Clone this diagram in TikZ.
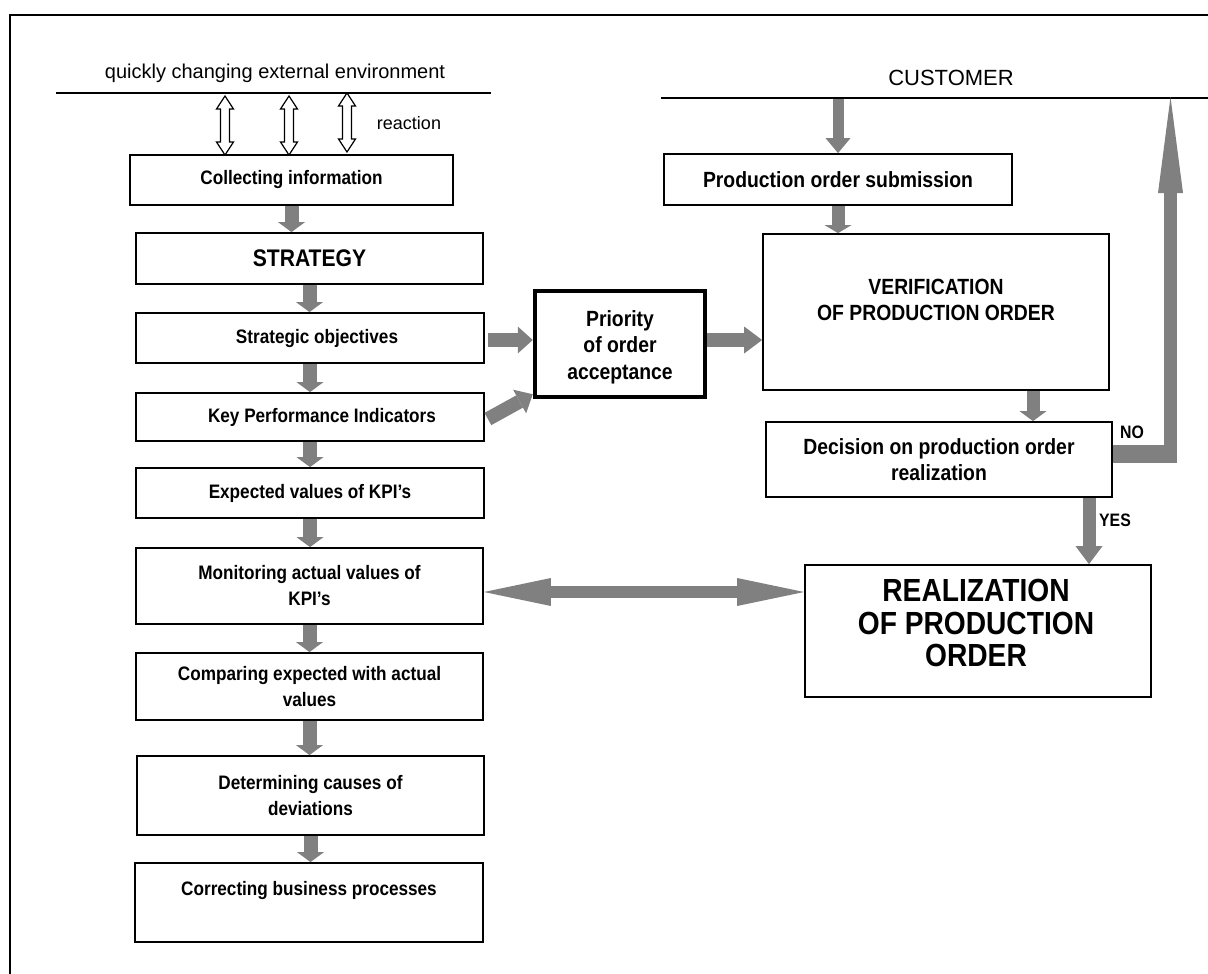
\documentclass[tikz,border=0pt]{standalone}
\usepackage{fontspec}
\setmainfont{Liberation Sans}[FakeStretch=0.88]
\newfontfamily\plainfont{Liberation Sans}
\usetikzlibrary{arrows.meta,calc}
\definecolor{agray}{RGB}{128,128,128}
\newcommand\lboxfont{\fontsize{19.5}{26}\selectfont\bfseries}
\newcommand\rboxfont{\fontsize{22}{26}\selectfont\bfseries}
\begin{document}
\begin{tikzpicture}[x=1pt,y=-1pt,
  box/.style={draw, line width=1.8pt, inner sep=2pt, align=center, font=\lboxfont},
  rbox/.style={box, font=\rboxfont},
  txt/.style={inner sep=0pt, align=center},
  garr/.style n args={3}{draw=agray, line width=#1, -{Triangle[width=#2, length=#3, line width=0pt]}},
  dgarr/.style n args={3}{draw=agray, line width=#1, {Triangle[width=#2, length=#3, line width=0pt]}-{Triangle[width=#2, length=#3, line width=0pt]}},
  hollow/.style={draw, fill=white, line width=1.2pt, line join=miter}
]
\useasboundingbox (0,0) rectangle (1208,974);
% frame
\draw[line width=2pt] (10,974) -- (10,15) -- (1208,15);

% environment
\node[txt, font=\plainfont\fontsize{20}{24}\selectfont] (env) at (275,73) {quickly changing external environment};
\coordinate (envL) at (56,93);
\coordinate (envR) at (491,93);
\draw[line width=1.5pt] (envL) -- (envR);
\node[txt, font=\plainfont\fontsize{18}{22}\selectfont] (react) at (409,123) {reaction};

% customer
\node[txt, font=\plainfont\fontsize{22}{26}\selectfont] (cust) at (951,78) {CUSTOMER};
\coordinate (custL) at (661,98);
\coordinate (custR) at (1208,98);
\draw[line width=1.5pt] (custL) -- (custR);

% left column
\node[box, minimum width=323pt, minimum height=50pt] (coll) at (291.5,180) {Collecting information};
\node[box, minimum width=347pt, minimum height=51pt, font=\fontsize{24}{28}\selectfont\bfseries] (strat) at (309.5,258.5) {STRATEGY};
\node[box, minimum width=348pt, minimum height=50pt] (obj) at (310,338) {\hspace*{14pt}Strategic objectives};
\node[box, minimum width=348pt, minimum height=48pt] (kpi) at (310,417) {\hspace*{24pt}Key Performance Indicators};
\node[box, minimum width=348pt, minimum height=50pt] (exp) at (310,493) {Expected values of KPI’s};
\node[box, minimum width=347pt, minimum height=76pt] (mon) at (309.5,586) {Monitoring actual values of\\KPI’s};
\node[box, minimum width=347pt, minimum height=67pt] (cmp) at (309.5,686.5) {Comparing expected with actual\\values};
\node[box, minimum width=347pt, minimum height=79pt] (det) at (310.5,795.5) {Determining causes of\\deviations};
\node[box, minimum width=348pt, minimum height=79pt] (cor) at (309,902.5) {};
\node[txt, font=\lboxfont] (cortext) at (309,890) {Correcting business processes};

% priority
\node[box, line width=4.5pt, minimum width=170pt, minimum height=106pt] (prio) at (620,344) {};
\node[txt, font=\fontsize{22}{26.5}\selectfont\bfseries] (priotext) at (620,347) {Priority\\of order\\acceptance};

% right column
\node[rbox, minimum width=348pt, minimum height=51pt] (sub) at (838,179.5) {Production order submission};
\node[rbox, minimum width=346pt, minimum height=156pt] (ver) at (936,312) {};
\node[txt, font=\rboxfont] (vertext) at (936,300) {VERIFICATION\\OF PRODUCTION ORDER};
\node[rbox, minimum width=346pt, minimum height=75pt] (dec) at (939,459.5) {Decision on production order\\realization};
\node[box, minimum width=346pt, minimum height=132pt] (real) at (978,631) {};
\node[txt, font=\fontsize{32}{32.5}\selectfont\bfseries] (realtext) at (976,623) {REALIZATION\\OF PRODUCTION\\ORDER};

% hollow double arrows
\foreach \x/\t/\b in {225/96/155, 289/96/155, 347/93/152}{
  \draw[hollow] (\x,\t) -- ++(8.5,13) -- ++(-4,0) -- (\x+4.5,\b-13) -- ++(4,0) -- (\x,\b)
     -- ++(-8.5,-13) -- ++(4,0) -- (\x-4.5,\t+13) -- ++(-4,0) -- cycle;
}

% left column arrows
\draw[garr={14pt}{27pt}{10pt}] (coll.south) -- (coll.south |- strat.north);
\draw[garr={14pt}{27pt}{10pt}] (strat.south) -- (strat.south |- obj.north);
\draw[garr={14pt}{27pt}{10pt}] (obj.south) -- (obj.south |- kpi.north);
\draw[garr={14pt}{27pt}{10pt}] (kpi.south) -- (kpi.south |- exp.north);
\draw[garr={14pt}{27pt}{10pt}] (exp.south) -- (exp.south |- mon.north);
\draw[garr={14pt}{27pt}{10pt}] (mon.south) -- (mon.south |- cmp.north);
\draw[garr={14pt}{27pt}{10pt}] (cmp.south) -- (cmp.south |- det.north);
\draw[garr={14pt}{27pt}{10pt}] (det.south) -- (det.south |- cor.north);

% to / from priority
\coordinate (objout) at ([xshift=3pt,yshift=-2pt]obj.east);
\draw[garr={14pt}{27pt}{15pt}] (objout) -- (objout -| prio.west);
\coordinate (kpiout) at ([xshift=3pt,yshift=-2pt]kpi.east);
\draw[garr={14pt}{27pt}{15pt}] (kpiout) -- ($(prio.south west)+(0,-5)$);
\coordinate (prioout) at ([yshift=4pt]prio.east);
\draw[garr={14pt}{27pt}{18pt}] (prioout) -- (prioout -| ver.west);

% right column arrows
\coordinate (custin) at (838,99);
\draw[garr={11pt}{25pt}{15pt}] (custin) -- (sub.north);
\draw[garr={13pt}{27pt}{8pt}] (sub.south) -- (sub.south |- ver.north);
\coordinate (verout) at ([xshift=97pt]ver.south);
\draw[garr={13pt}{27pt}{10pt}] (verout) -- (verout |- dec.north);
\coordinate (decyes) at ([xshift=150pt]dec.south);
\draw[garr={13pt}{27pt}{18pt}] (decyes) -- (decyes |- real.north);
\node[txt, font=\fontsize{18}{22}\selectfont\bfseries] (yes) at (1115,520) {YES};

% NO loop
\coordinate (decno) at ([yshift=5.5pt]dec.east);
\coordinate (nocorner) at (1177,454);
\draw[draw=agray, line width=18pt] (decno) -- (nocorner);
\coordinate (nobottom) at (1170.5,463);
\coordinate (custhit) at (1170.5,97);
\draw[garr={13pt}{25pt}{96pt}] (nobottom) -- (custhit);
\node[txt, font=\fontsize{18}{22}\selectfont\bfseries] (no) at (1132,432) {NO};

% monitoring <-> realization
\coordinate (monout) at ([yshift=-6pt]mon.east);
\draw[dgarr={12pt}{28pt}{67pt}] (monout) -- (monout -| real.west);
\end{tikzpicture}
\end{document}
